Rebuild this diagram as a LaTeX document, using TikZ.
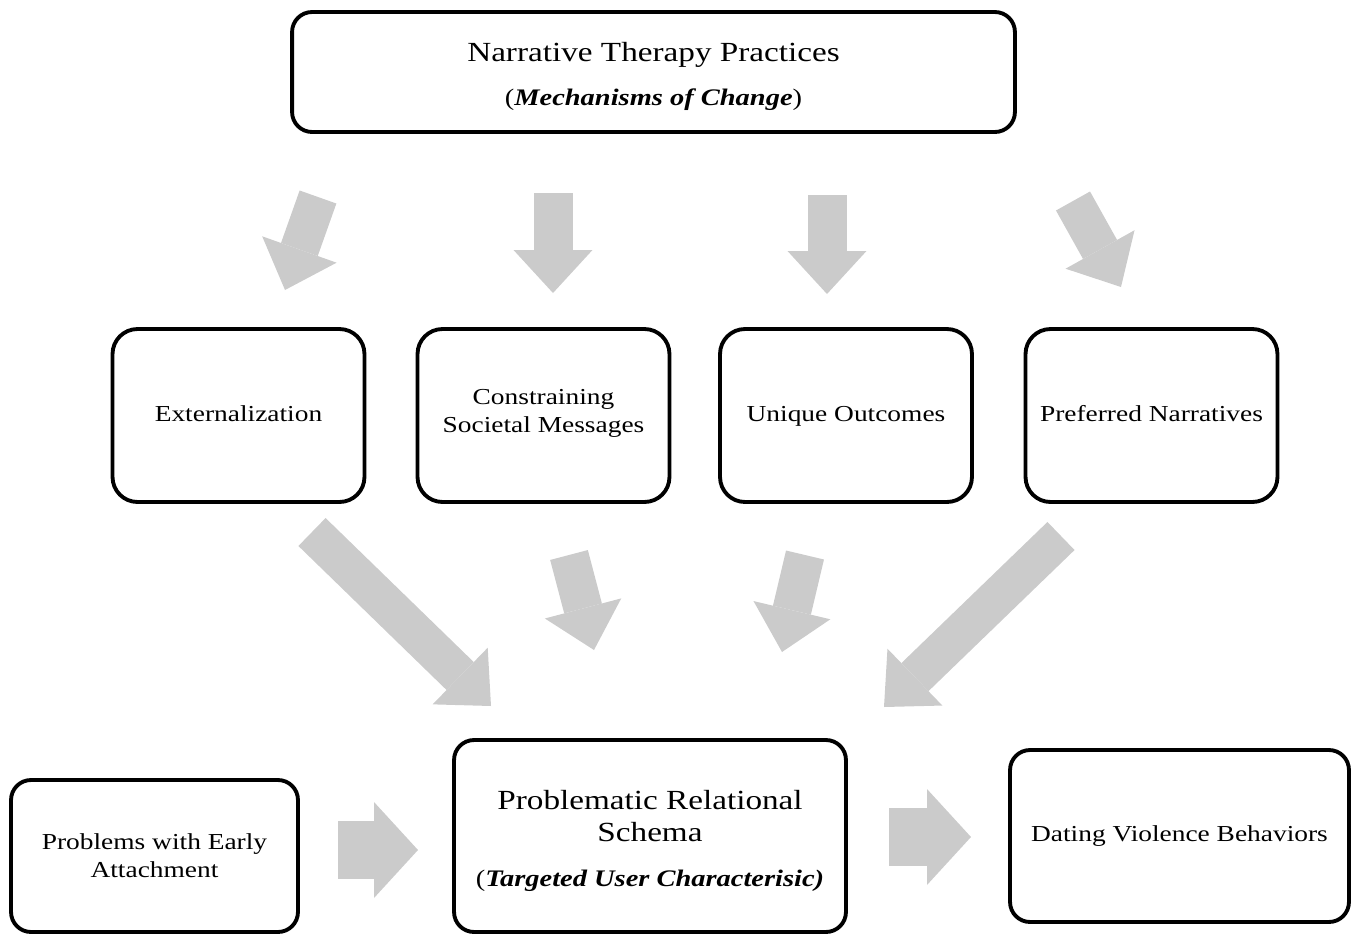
\documentclass[tikz,border=0pt]{standalone}
\usepackage{fontspec}
\setmainfont{Liberation Serif}[FakeStretch=1.2]
\usetikzlibrary{arrows.meta}
\definecolor{arrowgray}{RGB}{203,203,203}
\tikzset{
  box/.style={draw=black,line width=2.2pt,rounded corners=0.4cm,fill=white,align=center,inner sep=0pt},
  midbox/.style={box,rounded corners=0.5cm,minimum width=5.04cm,minimum height=3.46cm,font=\fontsize{13}{16}\selectfont,
    execute at begin node=\strut,execute at end node=\strut},
  thinarrow/.style={draw=arrowgray,line width=0.78cm,-{Triangle[width=1.58cm,length=0.86cm,line width=0pt]}},
  fatarrow/.style={draw=arrowgray,line width=1.16cm,-{Triangle[width=1.92cm,length=0.88cm,line width=0pt]}}
}
\begin{document}
\begin{tikzpicture}[x=0.02cm,y=-0.02cm]
  \useasboundingbox(0,0)rectangle(1360,937);
  % top box
  \node[box,minimum width=14.46cm,minimum height=2.4cm](ntp)at(653.5,72){};
  \node[align=center,inner sep=0pt,font=\fontsize{15.75}{19}\selectfont](ntptxt)at([yshift=-0.08cm]ntp.center)
    {Narrative Therapy Practices\\[6pt]{\fontsize{13.5}{19}\selectfont(\textbf{\textit{Mechanisms of Change}})}};
  % practices
  \foreach \nm/\x/\txt in{ext/238.5/Externalization, csm/543.5/{Constraining\\Societal Messages}, uqo/846/Unique Outcomes, pfn/1151.5/Preferred Narratives}{
    \node[midbox](\nm)at(\x,415.5){\txt};
  }
  % bottom row
  \node[box,minimum width=5.74cm,minimum height=3.04cm,font=\fontsize{13}{16}\selectfont](pea)at(154.5,856)
    {Problems with Early\\Attachment};
  \node[box,minimum width=7.84cm,minimum height=3.84cm](prs)at(650,836){};
  \node[align=center,inner sep=0pt,font=\fontsize{15.75}{18}\selectfont](prstxt)at([yshift=-0.1cm]prs.center)
    {Problematic Relational\\Schema\\[8pt]{\fontsize{13.5}{18}\selectfont(\textbf{\textit{Targeted User Characterisic)}}}};
  \node[box,minimum width=6.78cm,minimum height=3.44cm,font=\fontsize{13}{16}\selectfont](dvb)at(1179.5,836)
    {Dating Violence Behaviors};
  % block arrows
  \foreach \n/\sx/\sy/\ex/\ey in{1/318/197/285/290, 2/553/193/553/293, 3/827/195/827/294, 4/1073/201/1121/287,
    5/312/532/491/706, 6/569/555/594/650, 7/805/555/782/652, 8/1061/536/884/707}{
    \coordinate(s\n)at(\sx,\sy);\coordinate(t\n)at(\ex,\ey);
    \draw[thinarrow](s\n)--(t\n);
  }
  \coordinate(s9)at(338,850);\coordinate(t9)at(418,850);
  \coordinate(s10)at(889,837);\coordinate(t10)at(971,837);
  \draw[fatarrow](s9)--(t9);
  \draw[fatarrow](s10)--(t10);
\end{tikzpicture}
\end{document}
